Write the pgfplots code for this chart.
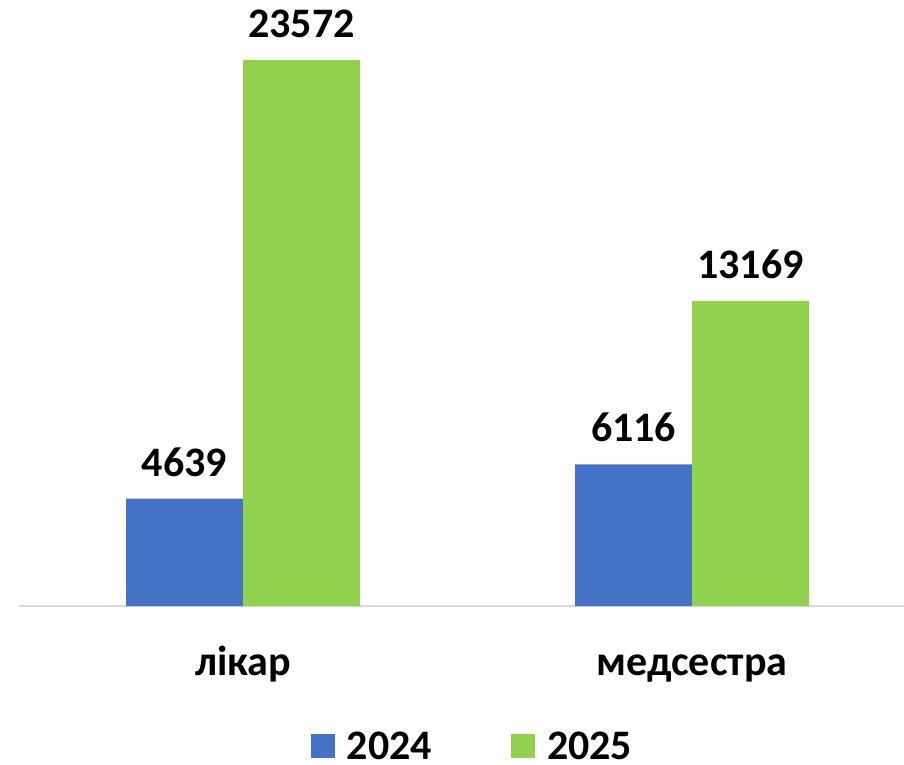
\documentclass[border=0pt]{standalone}
\usepackage{fontspec}
\setmainfont{Carlito}
\usepackage{pgfplots}
\pgfplotsset{compat=1.18}
\definecolor{barblue}{HTML}{4472C4}
\definecolor{bargreen}{HTML}{92D050}
\definecolor{axisgray}{HTML}{D9D9D9}
\newcommand{\bigbf}{\fontsize{42}{50}\selectfont\bfseries}

\begin{document}
\begin{tikzpicture}
  \begin{axis}[
      at={(0pt,0pt)}, anchor=south west,
      scale only axis, width=885pt, height=606pt,
      ybar=0pt, bar width=117pt,
      xmin=-0.499, xmax=1.472,
      ymin=0, ymax=26162,
      xtick={0,1}, xticklabels={лікар, медсестра},
      xticklabel style={font=\bigbf, anchor=base, yshift=-69pt, inner sep=0pt},
      major tick length=0pt,
      hide y axis,
      axis x line*=bottom,
      x axis line style={-, draw=axisgray, line width=1.5pt},
      nodes near coords={\pgfmathprintnumber[fixed, precision=0, set thousands separator={}, assume math mode=true]{\pgfplotspointmeta}},
      nodes near coords style={font=\bigbf, anchor=base, inner sep=0pt, yshift=22.5pt, text=black},
      legend columns=2,
      legend image code/.code={\fill[#1] (0pt,-11pt) rectangle (24pt,13pt);},
      legend style={at={(axis description cs:0.3299,-0.2558)}, anchor=south west,
                    draw=none, fill=none, inner sep=0pt, outer sep=0pt,
                    font=\bigbf, nodes={inner sep=0pt},
                    /tikz/every odd column/.append style={column sep=12pt},
                    /tikz/every even column/.append style={column sep=79pt}},
    ]
    \addplot[fill=barblue, draw=none] coordinates {(0,4639) (1,6116)};
    \addplot[fill=bargreen, draw=none] coordinates {(0,23572) (1,13169)};
    \legend{2024, 2025}
  \end{axis}
  \pgfresetboundingbox
  \path[use as bounding box] (-19pt,-158pt) rectangle (885pt,606pt);
\end{tikzpicture}
\end{document}
